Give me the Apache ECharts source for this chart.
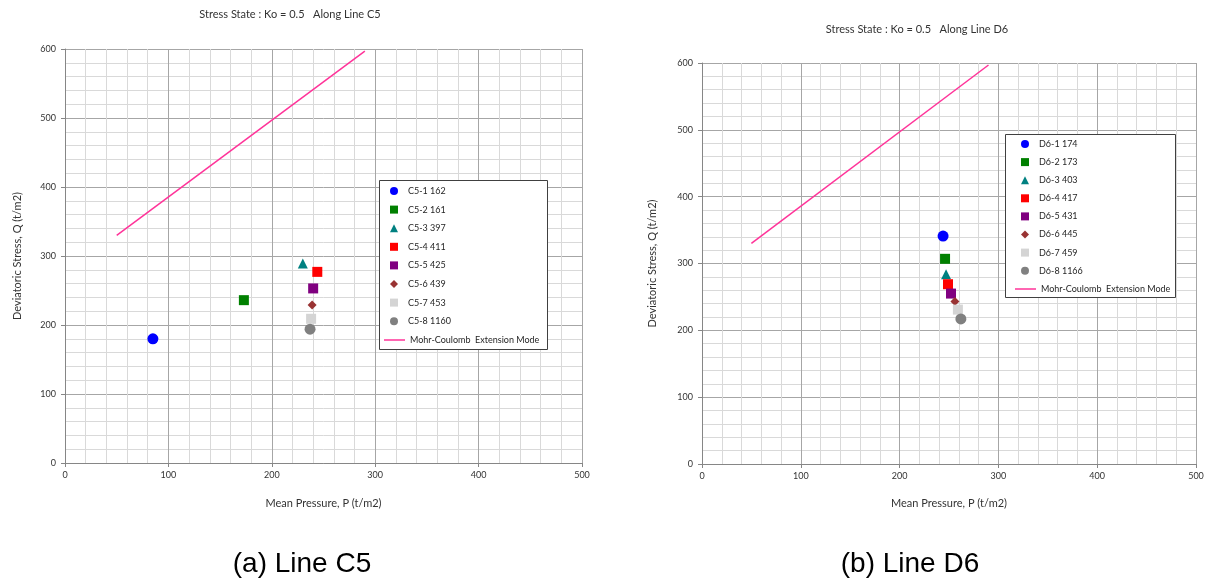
<!DOCTYPE html>
<html>
<head>
<meta charset="utf-8">
<script src="https://cdn.jsdelivr.net/npm/echarts@6/dist/echarts.min.js"></script>
<style>
  html, body { margin: 0; padding: 0; background: #fff; }
  #main { width: 1215px; height: 584px; }
</style>
</head>
<body>
<div id="main"></div>
<script>
// point names, legend labels
var namesC5 = ["C5-1 162", "C5-2 161", "C5-3 397", "C5-4 411", "C5-5 425", "C5-6 439", "C5-7 453", "C5-8 1160"];
var namesD6 = ["D6-1 174", "D6-2 173", "D6-3 403", "D6-4 417", "D6-5 431", "D6-6 445", "D6-7 459", "D6-8 1166"];
// mean pressure P / deviatoric stress Q
var pC5 = [85, 173, 230, 244, 240, 239, 238, 237];
var qC5 = [180, 236, 289, 277, 253, 229, 209, 194];
var pD6 = [244, 246, 247, 249, 252, 256, 259, 262];
var qD6 = [341, 307, 284, 269, 255, 243, 231, 217];
// Mohr-Coulomb extension line (same in both panels)
var mcName = "Mohr-Coulomb  Extension Mode";
var mcP = [50, 290];
var mcQ = [330, 597];

var colors = ["#0000ff", "#008000", "#008080", "#ff0000", "#800080", "#993333", "#d4d4d4", "#808080"];
var symbols = ["circle", "rect", "triangle", "rect", "rect", "diamond", "rect", "circle"];
var sizes = [11, 10, 10, 10, 10, 9, 10, 11];

var font = "Lato";

function makeAxis(idx, name, nameGap, isY) {
  return {
    type: "value",
    gridIndex: idx,
    min: 0,
    max: isY ? 600 : 500,
    interval: 100,
    name: name,
    nameLocation: "middle",
    nameGap: nameGap,
    nameTextStyle: { fontFamily: font, fontSize: 11, color: "#333" },
    axisLine: { show: true, lineStyle: { color: "#868686", width: 1 } },
    axisTick: { show: true, length: 4, lineStyle: { color: "#868686" } },
    axisLabel: { fontFamily: font, fontSize: 9, color: "#333", margin: isY ? 9 : 8 },
    splitLine: { show: true, lineStyle: { color: "#a6a6a6", width: 1 } },
    minorTick: { show: false, splitNumber: 5 },
    minorSplitLine: { show: true, lineStyle: { color: "#d9d9d9", width: 1 } },
  };
}

var series = [];
function addPanel(idx, names, ps, qs) {
  for (var i = 0; i < names.length; i++) {
    series.push({
      name: names[i],
      type: "scatter",
      xAxisIndex: idx,
      yAxisIndex: idx,
      symbol: symbols[i],
      symbolSize: sizes[i],
      itemStyle: { color: colors[i], opacity: 1 },
      data: [[ps[i], qs[i]]],
      z: 2,
    });
  }
  series.push({
    name: mcName,
    type: "line",
    xAxisIndex: idx,
    yAxisIndex: idx,
    symbol: "none",
    lineStyle: { color: "#ff3399", width: 1.5 },
    itemStyle: { color: "#ff3399" },
    data: [[mcP[0], mcQ[0]], [mcP[1], mcQ[1]]],
    z: 2,
  });
}
addPanel(0, namesC5, pC5, qC5);
addPanel(1, namesD6, pD6, qD6);

var legendText = { fontFamily: font, fontSize: 9, color: "#262626", lineHeight: 9 };

// point legend (square icon box) + line legend (wide icon) per panel
function pointLegend(names, left, top, gap) {
  return {
    orient: "vertical",
    left: left,
    top: top,
    data: names,
    itemWidth: 8,
    itemHeight: 8,
    itemGap: gap,
    padding: 0,
    selectedMode: false,
    textStyle: Object.assign({ padding: [0, 0, 0, 5] }, legendText),
  };
}
function lineLegend(left, top) {
  return {
    orient: "vertical",
    left: left,
    top: top,
    data: [{ name: mcName, icon: "path://M0,0L21,0L21,1.5L0,1.5Z" }],
    itemWidth: 21,
    itemHeight: 8,
    padding: 0,
    selectedMode: false,
    textStyle: legendText,
  };
}
function legendBox(x, y, w, h) {
  return {
    type: "rect",
    z: 3,
    shape: { x: x + 0.5, y: y + 0.5, width: w, height: h },
    style: { fill: "#fff", stroke: "#404040", lineWidth: 1 },
  };
}

var chartDom = document.getElementById("main");
var myChart = echarts.init(chartDom);
var option = {
  animation: false,
  backgroundColor: "#fff",
  grid: [
    { left: 65, top: 49, width: 517, height: 414 },
    { left: 702, top: 63, width: 494, height: 401 },
  ],
  xAxis: [
    makeAxis(0, "Mean Pressure, P (t/m2)", 35, false),
    makeAxis(1, "Mean Pressure, P (t/m2)", 34, false),
  ],
  yAxis: [
    makeAxis(0, "Deviatoric Stress, Q (t/m2)", 42, true),
    makeAxis(1, "Deviatoric Stress, Q (t/m2)", 44, true),
  ],
  legend: [
    pointLegend(namesC5, 390, 186.5, 9.6),
    lineLegend(384, 335.5),
    pointLegend(namesD6, 1021, 139.5, 9.1),
    lineLegend(1015, 284.5),
  ],
  graphic: [
    legendBox(379, 180, 168, 169),
    legendBox(1005, 134, 170, 163),
    { type: "text", x: 290, y: 14, style: { text: "Stress State : Ko = 0.5   Along Line C5", font: "11px " + font, fill: "#333", textAlign: "center", textVerticalAlign: "middle" } },
    { type: "text", x: 917, y: 29, style: { text: "Stress State : Ko = 0.5   Along Line D6", font: "11px " + font, fill: "#333", textAlign: "center", textVerticalAlign: "middle" } },
    { type: "text", x: 302, y: 564, style: { text: "(a) Line C5", font: "28px 'Liberation Sans'", fill: "#000", textAlign: "center", textVerticalAlign: "middle" } },
    { type: "text", x: 910, y: 564, style: { text: "(b) Line D6", font: "28px 'Liberation Sans'", fill: "#000", textAlign: "center", textVerticalAlign: "middle" } },
  ],
  series: series,
};

option && myChart.setOption(option);
</script>
</body>
</html>
